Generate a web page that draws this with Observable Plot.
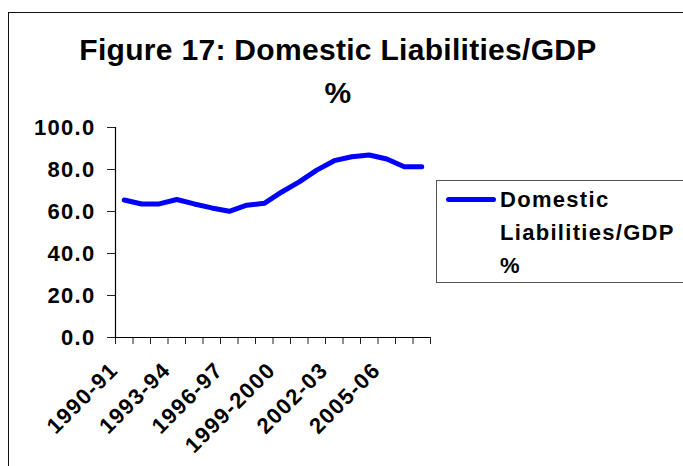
<!DOCTYPE html>
<html>
<head>
<meta charset="utf-8">
<script src="https://cdn.jsdelivr.net/npm/d3@7"></script>
<script src="https://cdn.jsdelivr.net/npm/@observablehq/plot@0.6"></script>
<style>
  html, body { margin: 0; padding: 0; background: #fff; }
  #wrap { position: relative; width: 683px; height: 466px; overflow: hidden; font-family: "Liberation Sans", Arial, sans-serif; font-weight: bold; color: #000; }
  #frame { position: absolute; left: 8px; top: 12px; width: 720px; height: 520px; border: 1.5px solid #111; box-sizing: border-box; }
  #chart { position: absolute; left: 0; top: 0; }
  .title { position: absolute; left: 0; width: 676px; text-align: center; font-size: 30px; line-height: 30px; letter-spacing: 0.3px; white-space: nowrap; }
  #legend { position: absolute; left: 436px; top: 180px; width: 300px; height: 103px; border: 1px solid #555; box-sizing: border-box; }
  #legline { position: absolute; left: 446px; top: 197px; width: 50px; height: 5px; background: #0000ff; border-radius: 2.5px; }
  #legtext { position: absolute; left: 500px; top: 183px; font-size: 22px; line-height: 33px; letter-spacing: 1.3px; white-space: nowrap; }
</style>
</head>
<body>
<div id="wrap">
  <div id="frame"></div>
  <div id="chart"></div>
  <div class="title" style="top:35px">Figure 17: Domestic Liabilities/GDP</div>
  <div class="title" style="top:78px">%</div>
  <div id="legend"></div>
  <div id="legline"></div>
  <div id="legtext">Domestic<br>Liabilities/GDP<br>%</div>
</div>
<script>
const categories = ["1990-91","1991-92","1992-93","1993-94","1994-95","1995-96","1996-97","1997-98","1998-99",
  "1999-2000","2000-01","2001-02","2002-03","2003-04","2004-05","2005-06","2006-07","2007-08"];
const values = [65.5,63.6,63.6,65.7,63.6,61.7,60.1,63.0,63.9,69.3,74.1,79.7,84.2,86.1,86.9,85.0,81.3,81.3];
const yTicks = [0,20,40,60,80,100];
const labelledCategories = ["1990-91","1993-94","1996-97","1999-2000","2002-03","2005-06"];

const rows = categories.map((c, i) => ({c, i, v: values[i]}));
const labelRows = rows.filter(d => labelledCategories.includes(d.c));

const chart = Plot.plot({
  width: 683, height: 466,
  marginLeft: 115, marginRight: 253, marginTop: 127, marginBottom: 129,
  x: {type: "linear", domain: [0, categories.length], axis: null},
  y: {domain: [0, 100], axis: null},
  style: {fontFamily: "'Liberation Sans', Arial, sans-serif", fontSize: "22px", fontWeight: "bold", letterSpacing: "1.3px", color: "#000", background: "transparent", overflow: "visible"},
  marks: [
    Plot.axisY(yTicks, {tickSize: 8, tickPadding: 12, tickFormat: d => d.toFixed(1), stroke: "#222", label: null}),
    Plot.axisX(d3.range(categories.length + 1), {tickSize: 7, tickFormat: () => "", stroke: "#222", label: null}),
    Plot.ruleX([0], {stroke: "#000", strokeWidth: 1.2}),
    Plot.ruleY([0], {stroke: "#000", strokeWidth: 1.2}),
    Plot.line(rows, {x: d => d.i + 0.5, y: "v", stroke: "#0000ff", strokeWidth: 5, strokeLinejoin: "round", strokeLinecap: "round"}),
    Plot.text(labelRows, {x: d => d.i + 0.5, text: "c", frameAnchor: "bottom", dx: -5, dy: 34, rotate: -45, textAnchor: "end", lineAnchor: "bottom", fill: "#000", fontSize: 22})
  ]
});
document.getElementById("chart").appendChild(chart);
</script>
</body>
</html>
